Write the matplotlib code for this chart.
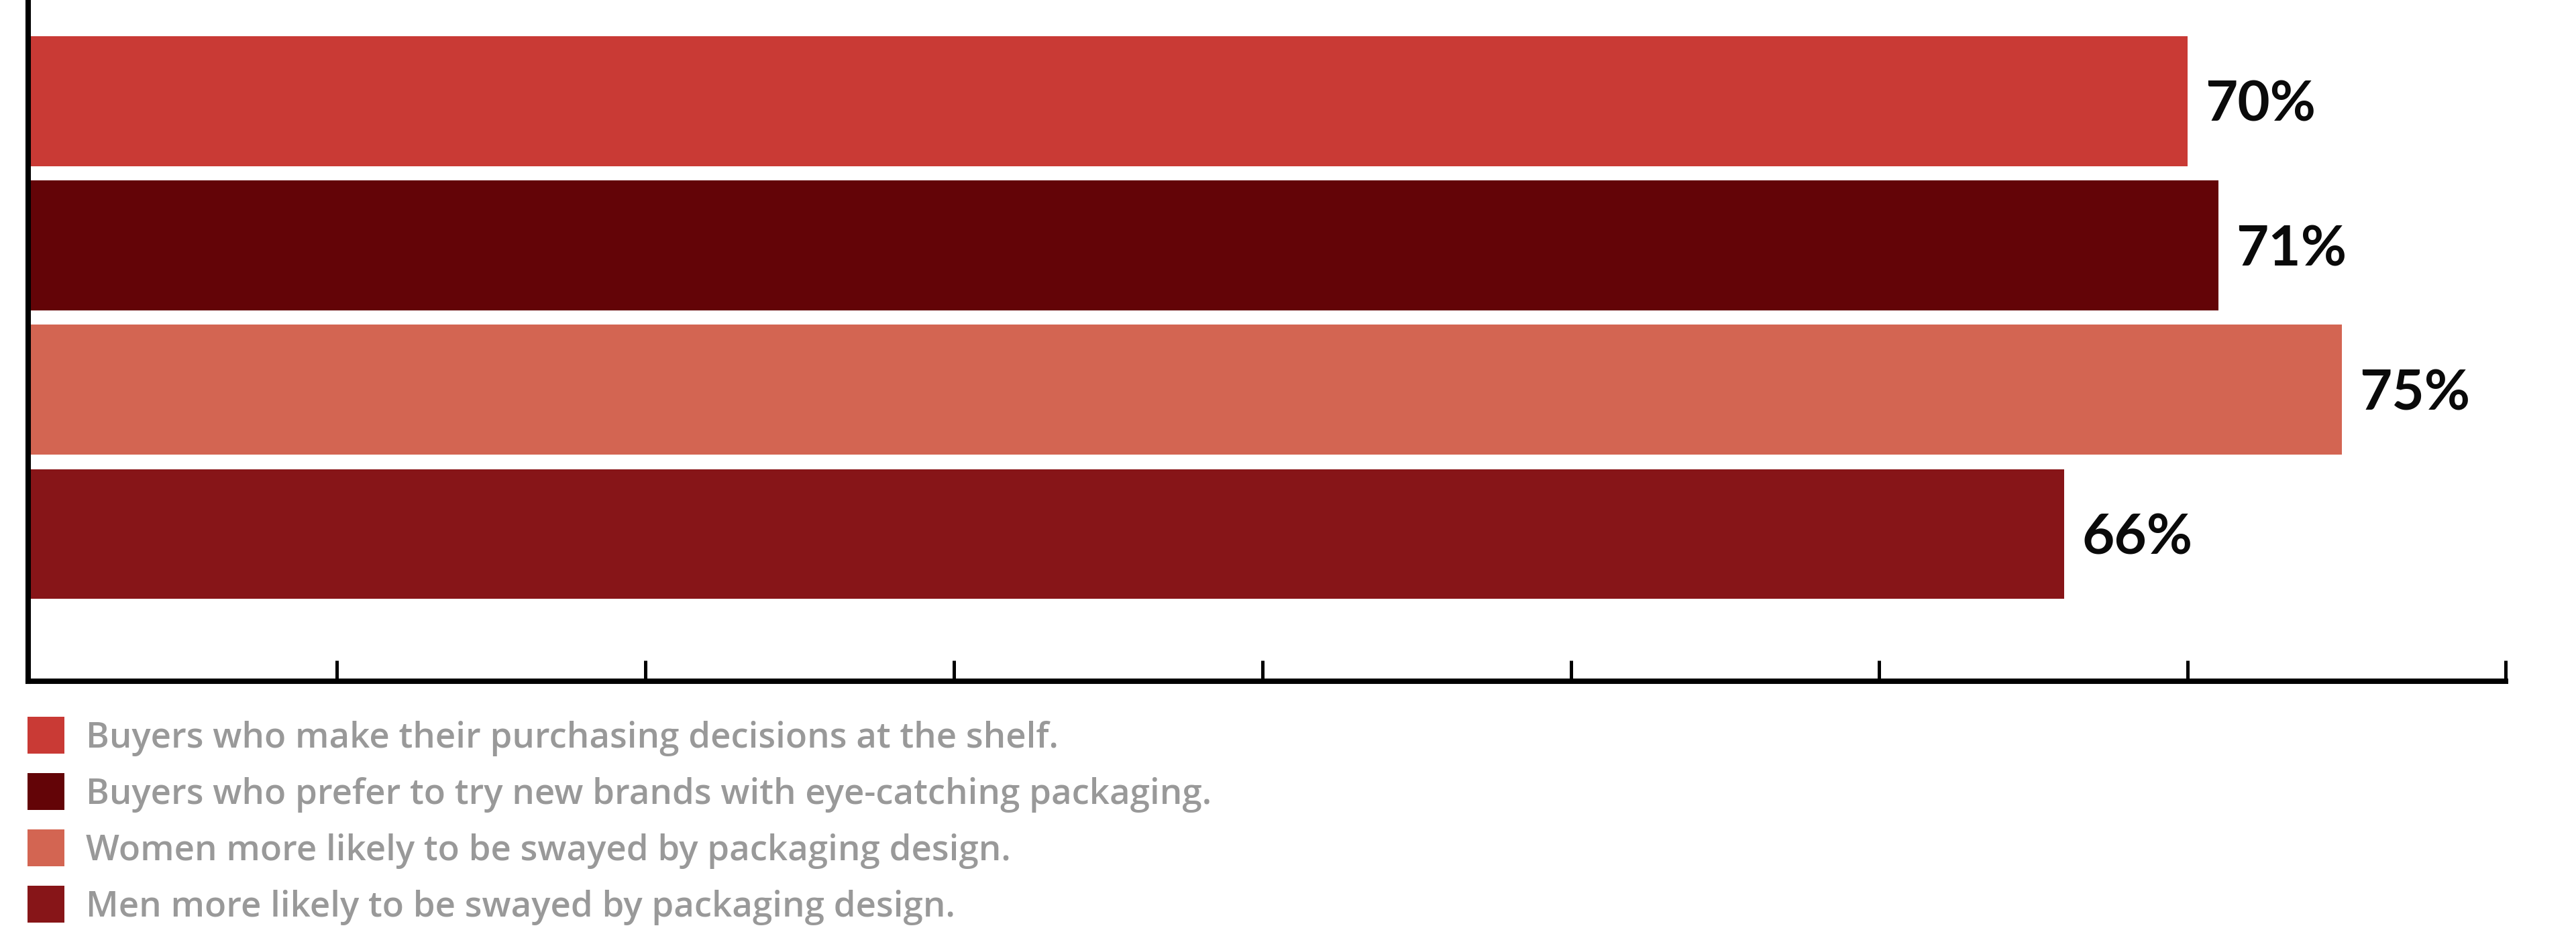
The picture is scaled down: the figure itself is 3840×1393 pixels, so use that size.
import matplotlib
matplotlib.use("Agg")
import matplotlib.pyplot as plt
from matplotlib.patches import Rectangle

labels = [
    "Buyers who make their purchasing decisions at the shelf.",
    "Buyers who prefer to try new brands with eye-catching packaging.",
    "Women more likely to be swayed by packaging design.",
    "Men more likely to be swayed by packaging design.",
]
values = [70, 71, 75, 66]
colors = ["#C93A35", "#630407", "#D36552", "#871518"]
xticks = [10, 20, 30, 40, 50, 60, 70]

W, H, DPI = 3840, 1393, 100
fig = plt.figure(figsize=(W / DPI, H / DPI), dpi=DPI)

# axes box in pixels: left spine at x=42, bottom spine at y=1016 (from top)
left, right, top, bottom = 42, 3735, 0, 1016
ax = fig.add_axes([left / W, 1 - bottom / H, (right - left) / W, (bottom - top) / H])

ypos = list(range(len(values)))
bars = ax.barh(ypos, values, height=0.9, color=colors)
ax.set_ylim(4.02, -0.70)
xmax = 80.3
ax.set_xlim(0, xmax)

# baseline sits ~30px (0.14 units) below bar centre so the digits look centred
for y, v in zip(ypos, values):
    ax.text(v + 0.57, y + 0.14, f"{v}%", va="baseline", ha="left",
            fontsize=60, fontweight="bold", family="Lato", color="#0a0a0a")

for s in ["top", "right"]:
    ax.spines[s].set_visible(False)
ax.spines["left"].set_linewidth(5.8)
ax.spines["bottom"].set_linewidth(5.8)
ax.spines["left"].set_capstyle("projecting")
ax.spines["bottom"].set_capstyle("projecting")
ax.set_yticks([])
ax.set_xticks(xticks + [xmax])
ax.set_xticklabels([])
ax.tick_params(axis="x", direction="in", length=22, width=3.6, color="black")

# legend
sq = 55
for i, (lab, col) in enumerate(zip(labels, colors)):
    y0 = 1069 + i * 84
    fig.add_artist(Rectangle((41 / W, 1 - (y0 + sq) / H), sq / W, sq / H,
                             transform=fig.transFigure, color=col, lw=0))
    fig.text(128 / W, 1 - (y0 + sq / 2 + 19) / H, lab, va="baseline", ha="left",
             fontsize=38, family="Open Sans", fontweight="semibold", color="#999999")

fig.savefig("out.png", dpi=DPI)
